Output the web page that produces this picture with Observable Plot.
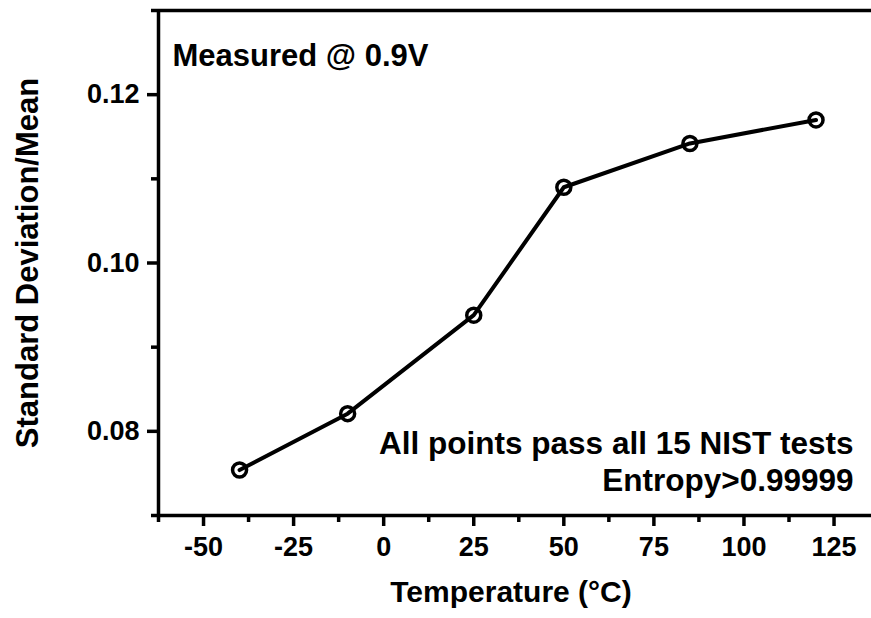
<!DOCTYPE html>
<html>
<head>
<meta charset="utf-8">
<script src="https://cdn.jsdelivr.net/npm/d3@7"></script>
<script src="https://cdn.jsdelivr.net/npm/@observablehq/plot@0.6"></script>
<style>
  html, body { margin: 0; padding: 0; background: white; }
</style>
</head>
<body>
<div id="chart"></div>
<script>
const temperatures = [-40, -10, 25, 50, 85, 120];
const stdOverMean = [0.0754, 0.0821, 0.0938, 0.1090, 0.1142, 0.1170];
const xMajorTicks = [-50, -25, 0, 25, 50, 75, 100, 125];
const xMinorTicks = [-62.5, -37.5, -12.5, 12.5, 37.5, 62.5, 87.5, 112.5];
const yMajorTicks = [0.08, 0.10, 0.12];
const yMinorTicks = [0.07, 0.09, 0.11, 0.13];
const xTitle = "Temperature (°C)";
const yTitle = "Standard Deviation/Mean";
const noteTop = "Measured @ 0.9V";
const noteLine1 = "All points pass all 15 NIST tests";
const noteLine2 = "Entropy>0.99999";

const data = temperatures.map((t, i) => ({t, v: stdOverMean[i]}));

const chart = Plot.plot({
  width: 871,
  height: 618,
  marginLeft: 158,
  marginRight: 0,
  marginTop: 10,
  marginBottom: 103,
  style: {fontFamily: "'Liberation Sans', Arial, sans-serif", fontWeight: "bold", fontSize: "26px", color: "black", background: "white"},
  x: {domain: [-62.5, 135.4]},
  y: {domain: [0.07, 0.13]},
  marks: [
    Plot.ruleY([0.13], {stroke: "black", strokeWidth: 3.5}),
    Plot.ruleY([0.07], {stroke: "black", strokeWidth: 3.5}),
    Plot.ruleX([-62.5], {stroke: "black", strokeWidth: 3.5}),
    Plot.axisX({ticks: xMajorTicks, tickSize: 11, tickPadding: 10, strokeWidth: 3.5, fontSize: 27, fontWeight: "bold", label: null, tickFormat: d => String(d)}),
    Plot.axisX({ticks: xMinorTicks, tickSize: 7, strokeWidth: 3.5, label: null, tickFormat: () => ""}),
    Plot.axisY({ticks: yMajorTicks, tickSize: 11, tickPadding: 8, strokeWidth: 3.5, fontSize: 27, fontWeight: "bold", label: null, tickFormat: d3.format(".2f")}),
    Plot.axisY({ticks: yMinorTicks, tickSize: 7, strokeWidth: 3.5, label: null, tickFormat: () => ""}),
    Plot.line(data, {x: "t", y: "v", stroke: "black", strokeWidth: 4}),
    Plot.dot(data, {x: "t", y: "v", r: 7, stroke: "black", strokeWidth: 3.5, fill: "none"}),
    Plot.text([noteTop], {frameAnchor: "top-left", dx: 14, dy: 33, textAnchor: "start", fontSize: 31, fontWeight: "bold"}),
    Plot.text([noteLine1], {frameAnchor: "bottom-right", dx: -18, dy: -62, textAnchor: "end", fontSize: 31.5, fontWeight: "bold"}),
    Plot.text([noteLine2], {frameAnchor: "bottom-right", dx: -18, dy: -25, textAnchor: "end", fontSize: 31.5, fontWeight: "bold"}),
    Plot.text([xTitle], {frameAnchor: "bottom", dx: -4, dy: 86, fontSize: 30, fontWeight: "bold"}),
    Plot.text([yTitle], {frameAnchor: "left", rotate: -90, dx: -130, textAnchor: "middle", fontSize: 31, fontWeight: "bold"})
  ]
});
document.getElementById("chart").appendChild(chart);
</script>
</body>
</html>
